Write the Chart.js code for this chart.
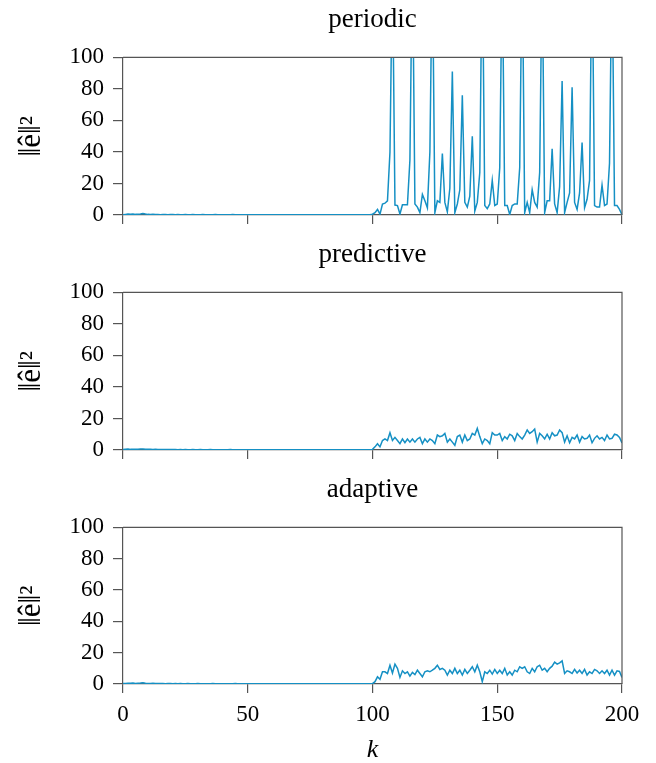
<!DOCTYPE html>
<html><head><meta charset="utf-8">
<script src="https://cdn.jsdelivr.net/npm/chart.js@4"></script>
<style>
body{margin:0;background:#fff;width:656px;height:763px;position:relative;overflow:hidden}
canvas{position:absolute;left:0}
</style></head>
<body>
<canvas id="c1" width="656" height="238" style="top:0px"></canvas>
<canvas id="c2" width="656" height="238" style="top:235px"></canvas>
<canvas id="c3" width="656" height="293" style="top:470px"></canvas>
<script>
const panelTitles = ['periodic', 'predictive', 'adaptive'];
const xTicks = [0, 50, 100, 150, 200];
const yTicks = [0, 20, 40, 60, 80, 100];

const periodic = [
0.2,0.4,0.6,0.5,0.7,0.4,0.5,0.6,1.0,0.6,
0.4,0.3,0.4,0.3,0.3,0.2,0.3,0.3,0.2,0.3,
0.3,0.2,0.3,0.2,0.2,0.3,0.2,0.2,0.3,0.2,
0.2,0.2,0.3,0.2,0.2,0.2,0.2,0.3,0.2,0.2,
0.2,0.2,0.2,0.2,0.3,0.2,0.2,0.2,0.2,0.2,
0.2,0.2,0.2,0.2,0.2,0.2,0.2,0.2,0.2,0.2,
0.2,0.2,0.2,0.2,0.2,0.2,0.2,0.2,0.2,0.2,
0.2,0.2,0.2,0.2,0.2,0.2,0.2,0.2,0.2,0.2,
0.2,0.2,0.2,0.2,0.2,0.2,0.2,0.2,0.2,0.2,
0.2,0.2,0.2,0.2,0.2,0.2,0.2,0.2,0.2,0.2,
0.5,1.5,3.5,0.5,7,7.5,9,40,160,6.3,
6,0.6,6.5,6.5,6.5,35,170,7,5,1.5,
13,9,4.5,40,165,1.5,9,8,39,8,
2,17,91,1.5,7,16,76,8,5,12,
50,2.5,8,27,170,6,4,7,22,6,
7,30,160,6,6,0.3,6,7,7,30,
165,1.5,8,1.5,16,8,5,27,160,1.5,
9,9,42,7,1.5,18,85,1.5,8,14,
81,8,3.5,14,46,4.6,10,22,170,6,
5,5,19,6,7,33,165,6,6,3.6,
0.2];

const predictive = [
0.3,0.5,0.6,0.4,0.5,0.4,0.5,0.6,0.7,0.5,
0.4,0.4,0.3,0.4,0.3,0.3,0.3,0.3,0.3,0.3,
0.3,0.3,0.2,0.3,0.2,0.3,0.2,0.2,0.3,0.2,
0.2,0.3,0.2,0.2,0.2,0.3,0.2,0.2,0.2,0.2,
0.2,0.2,0.2,0.3,0.2,0.2,0.2,0.2,0.2,0.2,
0.2,0.2,0.2,0.2,0.2,0.2,0.2,0.2,0.2,0.2,
0.2,0.2,0.2,0.2,0.2,0.2,0.2,0.2,0.2,0.2,
0.2,0.2,0.2,0.2,0.2,0.2,0.2,0.2,0.2,0.2,
0.2,0.2,0.2,0.2,0.2,0.2,0.2,0.2,0.2,0.2,
0.2,0.2,0.2,0.2,0.2,0.2,0.2,0.2,0.2,0.2,
0.4,2,4,2,6,7,6,11,6,8,
6,4,7,4.6,7,5,7,5,7,8,
4,7,5,7,6,4,9.5,8.5,9,10.5,
5,7,5,3,8.5,9.5,5,9.5,6,7,
10.5,9.5,13.7,8.5,4,7,6,4,11,9.5,
9.5,10.5,6,8.5,7,10,9,6,10.5,8.5,
7,9.5,12.7,10.5,11.6,13.3,5,10.5,9,7,
10,7,11,9,9.5,12.7,11,5,9,4.6,
8,7,9.5,5,8.5,7,7.4,9.5,4.6,7.4,
9,7,8,6,9.5,7,7.4,10,9.5,8,
4.5];

const adaptive = [
0.3,0.4,0.5,0.5,0.6,0.4,0.5,0.6,0.8,0.5,
0.4,0.3,0.4,0.3,0.3,0.3,0.3,0.2,0.3,0.3,
0.2,0.3,0.2,0.3,0.2,0.2,0.3,0.2,0.2,0.2,
0.3,0.2,0.2,0.2,0.2,0.2,0.3,0.2,0.2,0.2,
0.2,0.2,0.2,0.2,0.2,0.3,0.2,0.2,0.2,0.2,
0.2,0.2,0.2,0.2,0.2,0.2,0.2,0.2,0.2,0.2,
0.2,0.2,0.2,0.2,0.2,0.2,0.2,0.2,0.2,0.2,
0.2,0.2,0.2,0.2,0.2,0.2,0.2,0.2,0.2,0.2,
0.2,0.2,0.2,0.2,0.2,0.2,0.2,0.2,0.2,0.2,
0.2,0.2,0.2,0.2,0.2,0.2,0.2,0.2,0.2,0.2,
0.2,1.5,4.6,3,7.8,7.8,6.7,12,7,12.7,
10,4.2,8.4,6.7,7.8,5,7.4,6,8.8,6.7,
4.6,7.8,8.4,7.8,8.8,10,12,9.3,10,8.8,
5.7,8.8,6.7,10,6.7,8.8,5.7,9.3,6.7,8.8,
11,7.8,12,7.8,1.5,7.8,6.7,8.8,6.3,9.3,
6.7,8.8,6.7,10,5.7,7.8,5.7,8.8,7.8,11,
10,11,7.8,6.7,10,7.8,11,12,8.8,10,
7.8,10,11.4,14,12.7,13.5,14.8,6.7,8.4,7.8,
6.7,9.3,7,8.8,6.7,9.3,5.7,7.8,6.7,9.3,
8.4,6.7,8.4,6.7,8.8,5.7,8.8,5.7,8.4,8,
4.2];

const SERIF = '"Liberation Serif", "DejaVu Serif", serif';
const LINE = '#1590c4';
const AXIS = '#555555';

const framePlugin = {
  id: 'frame',
  afterDraw(chart) {
    const a = chart.chartArea, ctx = chart.ctx;
    ctx.save();
    ctx.strokeStyle = AXIS;
    ctx.lineWidth = 1.2;
    ctx.beginPath();
    ctx.moveTo(a.left, a.top);
    ctx.lineTo(a.right, a.top);
    ctx.lineTo(a.right, a.bottom);
    ctx.stroke();
    ctx.restore();
  }
};

function makeChart(id, title, values, showX) {
  const pts = values.map((v, i) => ({ x: i, y: v }));
  return new Chart(document.getElementById(id), {
    type: 'line',
    data: { datasets: [{ data: pts, borderColor: LINE, borderWidth: 1.5, pointRadius: 0, tension: 0, fill: false }] },
    options: {
      responsive: false, animation: false, devicePixelRatio: 1,
      layout: { padding: { left: 0, right: 34, top: 0, bottom: 0 } },
      plugins: {
        legend: { display: false }, tooltip: { enabled: false },
        title: { display: true, text: title, color: '#000', fullSize: false,
                 font: { family: SERIF, size: 27, weight: 'normal' },
                 padding: { top: 4, bottom: 21 } }
      },
      scales: {
        x: {
          type: 'linear', min: 0, max: 200,
          afterBuildTicks(s) { s.ticks = xTicks.map(v => ({ value: v })); },
          ticks: { display: showX, color: '#000', font: { family: SERIF, size: 23 }, padding: 8, maxRotation: 0 },
          grid: { drawOnChartArea: false, drawTicks: true, tickLength: 9, color: AXIS, lineWidth: 1.2 },
          border: { display: true, color: AXIS, width: 1.2 },
          title: { display: showX, text: 'k', color: '#000',
                   font: { family: SERIF, size: 26, style: 'italic', lineHeight: 1 }, padding: 0 },
          afterFit(s) { s.height = showX ? 79 : 23; }
        },
        y: {
          min: 0, max: 100,
          afterBuildTicks(s) { s.ticks = yTicks.map(v => ({ value: v })); },
          ticks: { color: '#000', font: { family: SERIF, size: 23 }, padding: 9 },
          grid: { drawOnChartArea: false, drawTicks: true, tickLength: 10, color: AXIS, lineWidth: 1.2 },
          border: { display: true, color: AXIS, width: 1.2 },
          title: { display: true, text: '‖ê‖²', color: '#000',
                   font: { family: SERIF, size: 31 }, padding: { top: 13, bottom: 0 } },
          afterFit(s) { s.width = 123; }
        }
      }
    },
    plugins: [framePlugin]
  });
}

makeChart('c1', panelTitles[0], periodic, false);
makeChart('c2', panelTitles[1], predictive, false);
makeChart('c3', panelTitles[2], adaptive, true);
</script>
</body></html>
